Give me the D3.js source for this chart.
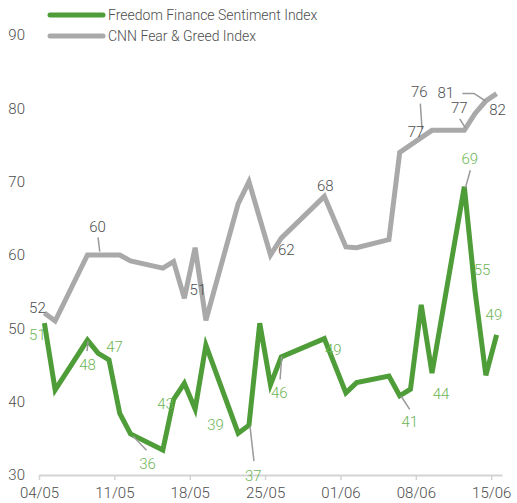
<!DOCTYPE html>
<html>
<head>
<meta charset="utf-8">
<script src="https://cdn.jsdelivr.net/npm/d3@7"></script>
<style>
  body { margin: 0; background: #fff; }
  text { font-family: Roboto, "Liberation Sans", sans-serif; font-weight: 300; }
</style>
</head>
<body>
<div id="chart"></div>
<script>
// data (day = days after 04/05)
const cnnDays   = [0, 1, 4, 7, 8, 11, 12, 13, 14, 15, 18, 19, 21, 22, 26, 28, 29, 32, 33, 35, 36, 39, 40, 41, 42]
const cnnValues = [52.1, 51.0, 60.0, 60.0, 59.2, 58.2, 59.1, 54.1, 61.0, 51.1, 67.0, 70.0, 60.0, 62.3, 68.0, 61.1, 61.0, 62.1, 74.0, 76.0, 77.0, 77.0, 79.3, 81.0, 82.0]

const ffDays   = [0, 1, 4, 5, 6, 7, 8, 11, 12, 13, 14, 15, 18, 19, 20, 21, 22, 26, 28, 29, 32, 33, 34, 35, 36, 39, 40, 41, 42]
const ffValues = [50.7, 41.6, 48.4, 46.6, 45.7, 38.4, 35.6, 33.4, 40.3, 42.5, 39.0, 47.7, 35.7, 36.8, 50.7, 42.3, 46.1, 48.6, 41.2, 42.6, 43.5, 40.8, 41.7, 53.2, 43.9, 69.3, 55.0, 43.6, 49.1]

const xTickLabels = ["04/05", "11/05", "18/05", "25/05", "01/06", "08/06", "15/06"]
const yTicks = [30, 40, 50, 60, 70, 80, 90]
const seriesNames = ["Freedom Finance Sentiment Index", "CNN Fear & Greed Index"]

// value labels: index into the series, text, offset of the label, optional leader line
const cnnLabels = [
  {i: 0, t: "52", dx: -7, dy: -5},
  {i: 2, t: "60", dx: 10, dy: -28, lead: [[10.6, -17.7], [12.3, -3.3]]},
  {i: 9, t: "51", dx: -8, dy: -31},
  {i: 13, t: "62", dx: 5, dy: 12},
  {i: 14, t: "68", dx: 1, dy: -11},
  {i: 19, t: "76", dx: -2, dy: -46, lead: [[-0.9, -34], [0.8, -8.7]]},
  {i: 20, t: "77", dx: -16, dy: 1},
  {i: 21, t: "77", dx: -5, dy: -22.5, lead: [[-4.6, -11.4], [1.1, -2.4]]},
  {i: 23, t: "81", dx: -40, dy: -8, lead: [[-23.5, -7.6], [-11.9, -7.6], [-0.2, 0]]},
  {i: 24, t: "82", dx: 1, dy: 16}
]
const ffLabels = [
  {i: 0, t: "51", dx: -7, dy: 11.5},
  {i: 2, t: "48", dx: 0, dy: 24.4, lead: [[0.6, 1.1], [-0.4, 11.1]]},
  {i: 3, t: "47", dx: 16.3, dy: -6.7},
  {i: 6, t: "36", dx: 17, dy: 30, lead: [[2.6, 2.4], [16, 16.4]]},
  {i: 9, t: "43", dx: -18.7, dy: 20},
  {i: 10, t: "39", dx: 20.5, dy: 15.7},
  {i: 13, t: "37", dx: 4.3, dy: 51, lead: [[1, 1], [5, 36]]},
  {i: 16, t: "46", dx: -1.9, dy: 36, lead: [[0.5, -0.7], [-1.2, 22.6]]},
  {i: 17, t: "49", dx: 9, dy: 11},
  {i: 21, t: "41", dx: 10, dy: 26, lead: [[1.3, 0.2], [10, 13.5]]},
  {i: 24, t: "44", dx: 9, dy: 21},
  {i: 25, t: "69", dx: 5.4, dy: -28, lead: [[6, -16.6], [1.1, 1.1]]},
  {i: 26, t: "55", dx: 7, dy: -21.7},
  {i: 28, t: "49", dx: -2.7, dy: -20}
]

const width = 517
const height = 503
const margin = {top: 35, right: 15, bottom: 28, left: 39}

const green = "#4e9d39"
const greenText = "#6db555"
const grey = "#a9a9a9"
const darkText = "#4d4d4d"

const start = new Date(2020, 4, 4)
const day = d => d3.timeHour.offset(d3.timeDay.offset(start, d), 12)

const svg = d3.select("#chart")
  .append("svg")
    .attr("width", width)
    .attr("height", height)

const xScale = d3.scaleTime()
  .domain([start, d3.timeDay.offset(start, 43)])
  .range([margin.left, width - margin.right])

const yScale = d3.scaleLinear()
  .domain([30, 90])
  .range([height - margin.bottom, margin.top])

// x axis
const xAxis = svg.append("g")
  .attr("transform", `translate(0, ${yScale(30)})`)
  .call(d3.axisBottom(xScale)
    .tickValues(xTickLabels.map((t, k) => d3.timeDay.offset(start, 7 * k)))
    .tickFormat((d, k) => xTickLabels[k])
    .tickSize(5)
    .tickSizeOuter(0))
xAxis.select(".domain").attr("stroke", "#d3d3d3").attr("stroke-width", 2)
xAxis.selectAll(".tick line").attr("stroke", "#d3d3d3").attr("stroke-width", 1.5)
xAxis.selectAll(".tick text")
  .attr("fill", darkText)
  .attr("y", 12)
  .style("font-size", "15px")
  .style("font-family", "Roboto, sans-serif")
  .style("font-weight", 300)

// y labels only
svg.append("g")
  .selectAll("text")
  .data(yTicks)
  .join("text")
    .attr("x", 25)
    .attr("y", d => yScale(d))
    .attr("dy", "0.35em")
    .attr("text-anchor", "end")
    .attr("fill", darkText)
    .style("font-size", "15px")
    .text(d => d)

const line = d3.line()
  .x(d => xScale(day(d[0])))
  .y(d => yScale(d[1]))

const cnnData = d3.zip(cnnDays, cnnValues)
const ffData = d3.zip(ffDays, ffValues)

svg.append("path")
  .datum(cnnData)
  .attr("d", line)
  .attr("fill", "none")
  .attr("stroke", grey)
  .attr("stroke-width", 5)

svg.append("path")
  .datum(ffData)
  .attr("d", line)
  .attr("fill", "none")
  .attr("stroke", green)
  .attr("stroke-width", 5)

function drawLabels(labels, data, color){
  const g = svg.append("g")
  labels.forEach(l => {
    const px = xScale(day(data[l.i][0]))
    const py = yScale(data[l.i][1])
    if(l.lead){
      g.append("polyline")
        .attr("points", l.lead.map(p => [px + p[0], py + p[1]].join(",")).join(" "))
        .attr("fill", "none")
        .attr("stroke", "#9a9a9a")
        .attr("stroke-width", 1.5)
    }
    g.append("text")
      .attr("x", px + l.dx)
      .attr("y", py + l.dy)
      .attr("dy", "0.35em")
      .attr("text-anchor", "middle")
      .attr("fill", color)
      .style("font-size", "15px")
      .text(l.t)
  })
}
drawLabels(cnnLabels, cnnData, darkText)
drawLabels(ffLabels, ffData, greenText)

// legend
const legend = svg.append("g")
legend.selectAll("line")
  .data(seriesNames)
  .join("line")
    .attr("x1", 50)
    .attr("x2", 103)
    .attr("y1", (d, k) => 15 + k * 21)
    .attr("y2", (d, k) => 15 + k * 21)
    .attr("stroke", (d, k) => k == 0 ? green : grey)
    .attr("stroke-width", 5)
    .attr("stroke-linecap", "round")
legend.selectAll("text")
  .data(seriesNames)
  .join("text")
    .attr("x", 108)
    .attr("y", (d, k) => 15 + k * 21)
    .attr("dy", "0.35em")
    .attr("fill", darkText)
    .style("font-size", "14px")
    .text(d => d)
</script>
</body>
</html>
